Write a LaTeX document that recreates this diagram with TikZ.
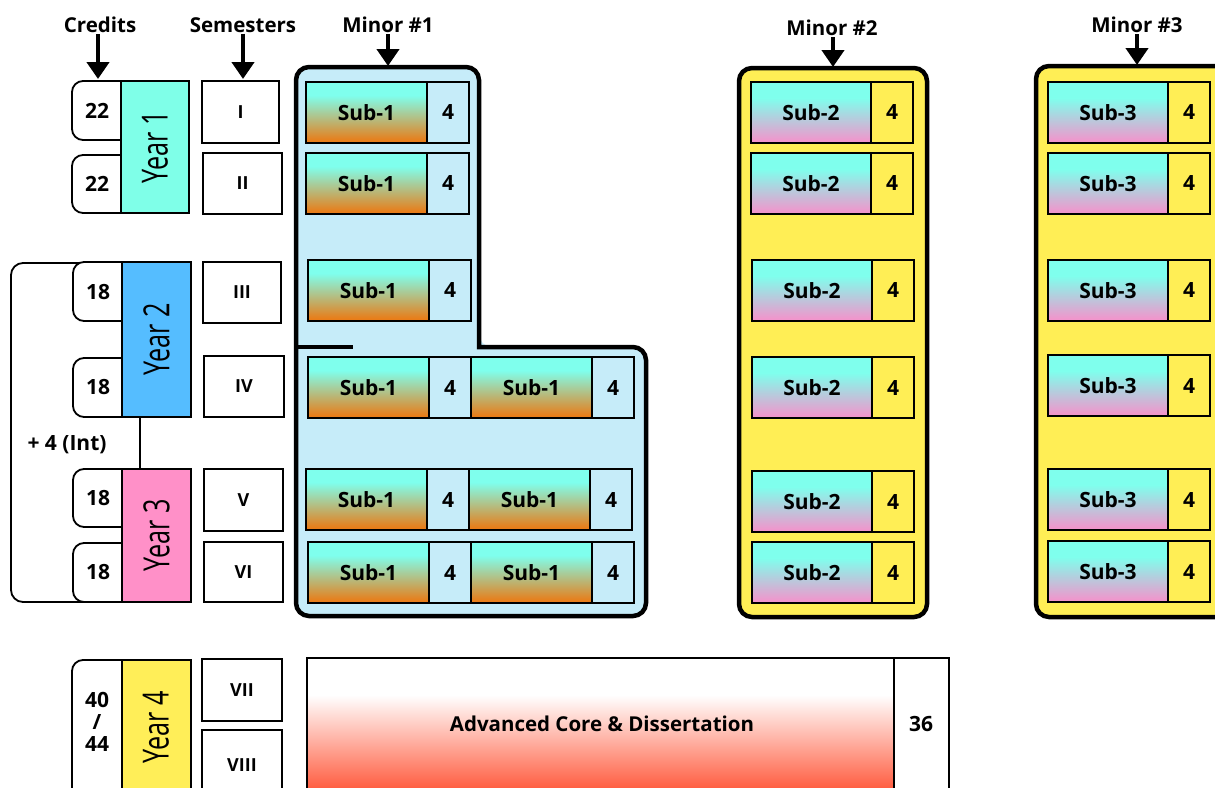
\documentclass[tikz,border=0pt]{standalone}
\usepackage{fontspec}
\setmainfont{Open Sans}
\newfontfamily\yearfont[FakeStretch=0.7]{Open Sans}
\usetikzlibrary{arrows.meta,calc}
\definecolor{subCyan}{HTML}{7FFFED}
\definecolor{subOrange}{HTML}{E87D19}
\definecolor{subPink}{HTML}{F096CC}
\definecolor{mOne}{HTML}{C6ECF9}
\definecolor{mYellow}{HTML}{FFEE55}
\definecolor{yOne}{HTML}{7FFFE8}
\definecolor{yTwo}{HTML}{55BDFF}
\definecolor{yThree}{HTML}{FF90C8}
\definecolor{yFour}{HTML}{FFEE58}
\definecolor{advRed}{HTML}{FF4A2A}
\pgfdeclareverticalshading{subOneSh}{100bp}{color(0bp)=(subOrange); color(27bp)=(subOrange); color(64bp)=(subCyan); color(100bp)=(subCyan)}
\pgfdeclareverticalshading{subTwoSh}{100bp}{color(0bp)=(subPink); color(27bp)=(subPink); color(62bp)=(subCyan); color(100bp)=(subCyan)}
\pgfdeclareverticalshading{advSh}{100bp}{color(0bp)=(advRed); color(25bp)=(advRed); color(62bp)=(white); color(100bp)=(white)}
\newcommand\subpair[5]{%
  \node[#3] (#1) at #2 {#4};
  \node[#5] (#1n) at (#1.north east) {4};}
\begin{document}
\begin{tikzpicture}[x=1pt,y=-1pt,
  lbl/.style={font=\bfseries\fontsize{20.5}{22}\selectfont, inner sep=1pt},
  arr/.style={line width=4.5pt, -{Triangle[width=22pt,length=17pt]}},
  cell/.style={draw=black, line width=1.8pt, inner sep=0pt, outer sep=0pt, minimum height=61pt, anchor=north west, font=\bfseries\fontsize{21}{21}\selectfont},
  subone/.style={cell, shading=subOneSh, minimum width=121pt},
  subtwo/.style={cell, shading=subTwoSh, minimum width=120pt},
  numone/.style={cell, fill=mOne, minimum width=42pt},
  numtwo/.style={cell, fill=mYellow, minimum width=42pt},
  sembox/.style={draw=black, line width=1.8pt, fill=white, anchor=north west, inner sep=0pt, outer sep=0pt, font=\bfseries\fontsize{18}{18}\selectfont},
  credbox/.style={draw=black, line width=1.8pt, fill=white, rounded corners=11pt},
  credtxt/.style={font=\bfseries\fontsize{21}{22}\selectfont, align=center, inner sep=0pt},
  yearbox/.style={draw=black, line width=1.8pt, anchor=north west, inner sep=0pt, outer sep=0pt},
  yeartxt/.style={font=\yearfont\fontsize{36}{36}\selectfont, rotate=90, inner sep=0pt},
  container/.style={draw=black, line width=4.5pt, rounded corners=13pt}]
\useasboundingbox (0,0) rectangle (1215,787);
\clip (0,0) rectangle (1215,787);
\fill[white] (0,0) rectangle (1215,787);

% ---------- headings ----------
\node[lbl] (lCred) at (100,25) {Credits};
\node[lbl] (lSem) at (243,25) {Semesters};
\node[lbl] (lMa) at (388,25) {Minor \#1};
\node[lbl] (lMb) at (832,28) {Minor \#2};
\node[lbl] (lMc) at (1137,25) {Minor \#3};
\coordinate (eCred) at (98,79);
\coordinate (eSem) at (243,79);
\coordinate (eMa) at (388,66);
\coordinate (eMb) at (833,67);
\coordinate (eMc) at (1137,65);
\draw[arr] (lCred.south -| eCred) -- (eCred);
\draw[arr] (lSem.south -| eSem) -- (eSem);
\draw[arr] (lMa.south -| eMa) -- (eMa);
\draw[arr] (lMb.south -| eMb) -- (eMb);
\draw[arr] (lMc.south -| eMc) -- (eMc);

% ---------- bracket years 2-3 ----------
\draw[line width=1.8pt, rounded corners=12pt] (125,263) -- (11,263) -- (11,602) -- (125,602);

% ---------- credit boxes ----------
\draw[credbox] (72,81) rectangle (135,140);
\draw[credbox] (72,155) rectangle (135,213);
\draw[credbox] (73,262) rectangle (135,321);
\draw[credbox] (73,358) rectangle (135,417);
\draw[credbox] (73,469) rectangle (135,527);
\draw[credbox] (73,543) rectangle (135,602);
\draw[credbox] (72,660) rectangle (135,800);

% ---------- year boxes ----------
\node[yearbox, fill=yOne, minimum width=68pt, minimum height=132pt] (y1) at (121,81) {};
\node[yearbox, fill=yTwo, minimum width=69pt, minimum height=155pt] (y2) at (122,262) {};
\node[yearbox, fill=yThree, minimum width=69pt, minimum height=133pt] (y3) at (122,469) {};
\node[yearbox, fill=yFour, minimum width=69pt, minimum height=140pt] (y4) at (122,660) {};
\draw[line width=1.8pt] ([xshift=-16.5pt]y2.south) -- ([xshift=-16.5pt]y3.north);
\node[yeartxt] (y1t) at (y1) {Year 1};
\node[yeartxt] (y2t) at (y2) {Year 2};
\node[yeartxt] (y3t) at (y3) {Year 3};
\node[yeartxt] (y4t) at (156,727) {Year 4};

\node[credtxt] (c1) at (97,111) {22};
\node[credtxt] (c2) at (97,184) {22};
\node[credtxt] (c3) at (98,292) {18};
\node[credtxt] (c4) at (98,387) {18};
\node[credtxt] (c5) at (98,498) {18};
\node[credtxt] (c6) at (98,572) {18};
\node[credtxt] (c7) at (97,722) {40\\/\\44};
\node[font=\bfseries\fontsize{21}{21}\selectfont, inner sep=0pt] (int) at (67,445) {+ 4 (Int)};

% ---------- semesters ----------
\node[sembox, minimum width=77pt, minimum height=62pt] (s1) at (202,81) {I};
\node[sembox, minimum width=79pt, minimum height=61pt] (s2) at (203,153) {II};
\node[sembox, minimum width=78pt, minimum height=61pt] (s3) at (203,262) {III};
\node[sembox, minimum width=80pt, minimum height=61pt] (s4) at (204,356) {IV};
\node[sembox, minimum width=79pt, minimum height=62pt] (s5) at (204,469) {V};
\node[sembox, minimum width=79pt, minimum height=60pt] (s6) at (204,542) {VI};
\node[sembox, minimum width=80pt, minimum height=62pt] (s7) at (202,659) {VII};
\node[sembox, minimum width=80pt, minimum height=70pt] (s8) at (202,730) {VIII};

% ---------- minor 1 container ----------
\fill[mOne] (479,347) [rounded corners=13pt] -- (646,347) -- (646,616) -- (296,616) -- (296,67) -- (479,67) -- (479,347) -- cycle;
\draw[line width=4.5pt, line cap=rect] (479,347) [rounded corners=13pt] -- (646,347) -- (646,616) -- (296,616) -- (296,67) -- (479,67) -- (479,347);
\draw[line width=3.5pt] (297,347) -- (353,347);

\subpair{aA}{(306,82)}{subone}{Sub-1}{numone}
\subpair{aB}{(306,153)}{subone}{Sub-1}{numone}
\subpair{aC}{(308,260)}{subone}{Sub-1}{numone}
\subpair{aD}{(308,357)}{subone}{Sub-1}{numone}
\subpair{aDD}{(aDn.north east)}{subone}{Sub-1}{numone}
\subpair{aE}{(306,469)}{subone}{Sub-1}{numone}
\subpair{aEE}{(aEn.north east)}{subone}{Sub-1}{numone}
\subpair{aF}{(308,542)}{subone}{Sub-1}{numone}
\subpair{aFF}{(aFn.north east)}{subone}{Sub-1}{numone}

% ---------- minor 2 ----------
\draw[container, fill=mYellow] (739,68) rectangle (927,617);
\subpair{bA}{(751,82)}{subtwo}{Sub-2}{numtwo}
\subpair{bB}{(751,153)}{subtwo}{Sub-2}{numtwo}
\subpair{bC}{(752,260)}{subtwo}{Sub-2}{numtwo}
\subpair{bD}{(752,357)}{subtwo}{Sub-2}{numtwo}
\subpair{bE}{(752,471)}{subtwo}{Sub-2}{numtwo}
\subpair{bF}{(752,542)}{subtwo}{Sub-2}{numtwo}

% ---------- minor 3 ----------
\draw[container, fill=mYellow] (1036,66) rectangle (1232,617);
\subpair{cA}{(1048,82)}{subtwo}{Sub-3}{numtwo}
\subpair{cB}{(1048,153)}{subtwo}{Sub-3}{numtwo}
\subpair{cC}{(1048,260)}{subtwo}{Sub-3}{numtwo}
\subpair{cD}{(1048,355)}{subtwo}{Sub-3}{numtwo}
\subpair{cE}{(1048,469)}{subtwo}{Sub-3}{numtwo}
\subpair{cF}{(1048,541)}{subtwo}{Sub-3}{numtwo}

% ---------- year 4 block ----------
\node[yearbox, shading=advSh, minimum width=587pt, minimum height=142pt] (adv) at (307,658) {};
\node[font=\bfseries\fontsize{20.5}{20.5}\selectfont, inner sep=0pt] (advt) at (602,724) {Advanced Core \& Dissertation};
\node[yearbox, fill=white, minimum width=55pt, minimum height=142pt] (dnum) at (adv.north east) {};
\node[font=\bfseries\fontsize{21}{21}\selectfont, inner sep=0pt] (dnumt) at (921,724) {36};
\end{tikzpicture}
\end{document}
